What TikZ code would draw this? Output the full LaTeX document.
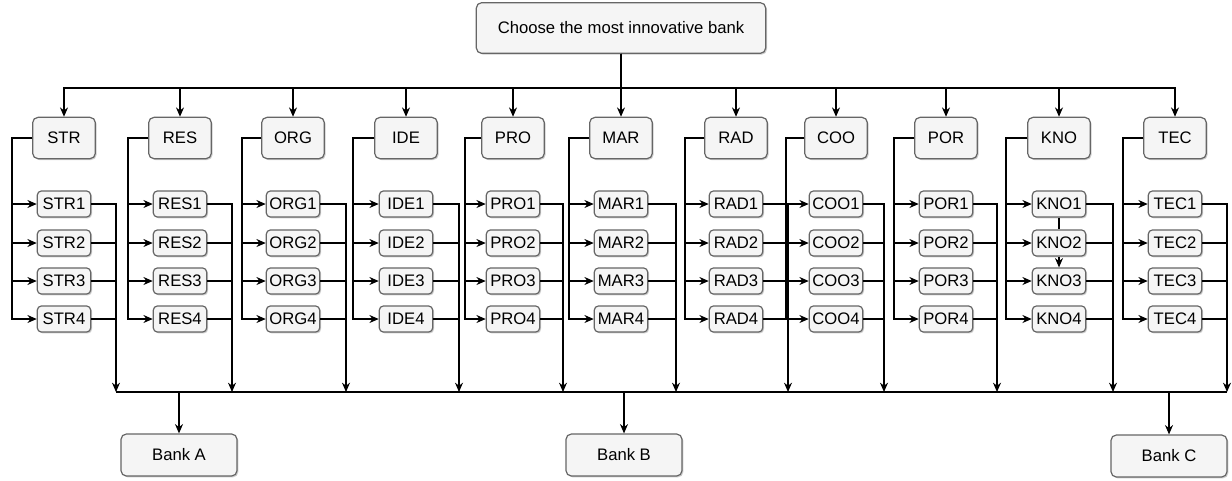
\documentclass[tikz,border=0pt]{standalone}
\usepackage{fontspec}
\setmainfont{Liberation Sans}
\usetikzlibrary{arrows.meta,shadows}
\definecolor{boxfill}{HTML}{F5F5F5}
\definecolor{boxline}{HTML}{666666}
\tikzset{
  box/.style={draw=boxline,fill=boxfill,rounded corners=4pt,align=center,inner sep=1pt,
    font=\fontsize{12.5}{14}\selectfont,
    drop shadow={shadow xshift=1pt,shadow yshift=-1pt,opacity=0.2,fill=black}},
  catbox/.style={box,minimum width=47pt,minimum height=31pt},
  subbox/.style={box,rounded corners=3pt,minimum width=40pt,minimum height=19.5pt},
  bankbox/.style={box,minimum width=87pt,minimum height=31.5pt},
}
\begin{document}
\begin{tikzpicture}[x=0.75pt,y=-0.75pt,>={Stealth[length=7pt,width=6pt]},line width=0.9pt]
    \useasboundingbox (0,0) rectangle (1232,480);
    \node[box,minimum width=217pt,minimum height=38pt] (goal) at (621,28) {Choose the most innovative bank};
    \coordinate (topbus) at (621,88);
    \coordinate (botbus) at (621,392);
    % criteria and their sub-criteria
    \foreach \c/\x/\l/\r in {STR/64/52/52,RES/180/52/52,ORG/293/51/53,IDE/406/53/53,PRO/513/48/50,MAR/621/52/55,
                             RAD/736/51/52,COO/836/50/48,POR/946/52/51,KNO/1059/53/54,TEC/1175/52/52}{
        \node[catbox] (\c) at (\x,138) {\c};
        \coordinate (\c-t) at (\x-\l,138);
        \coordinate (\c-b) at (\x+\r,392);
        \draw[->] (goal.south) |- (topbus -| \c) -- (\c.north);
        \foreach \i/\y in {1/204,2/243,3/281,4/319}{
            \node[subbox] (\c\i) at (\x,\y) {\c\i};
            \draw[->] (\c.west) -- (\c-t) |- (\c\i.west);
            \draw (\c\i.east) -- (\c\i.east -| \c-b);
        }
        \draw[->] (\c1.east) -| (\c-b);
    }
    \draw (KNO1.south) -- (KNO2.north);
    \draw[->] (KNO2.south) -- (KNO3.north);
    % alternatives
    \node[bankbox] (bankA) at (179,455) {Bank A};
    \node[bankbox] (bankB) at (624,455) {Bank B};
    \node[bankbox] (bankC) at (1169,456) {Bank C};
    \draw (STR-b) -- (TEC-b);
    \draw[->] (botbus -| bankA) -- (bankA.north);
    \draw[->] (botbus -| bankB) -- (bankB.north);
    \draw[->] (botbus -| bankC) -- (bankC.north);
\end{tikzpicture}
\end{document}
